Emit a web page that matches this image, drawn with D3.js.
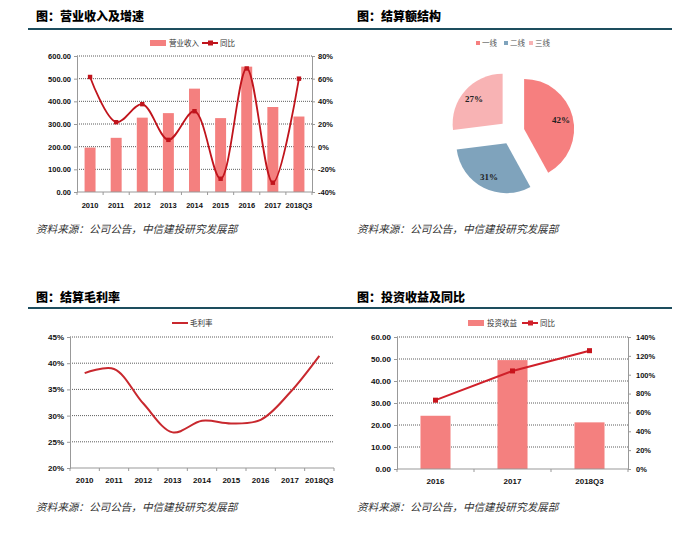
<!DOCTYPE html>
<html>
<head>
<meta charset="utf-8">
<script src="https://cdn.jsdelivr.net/npm/d3@7"></script>
<style>
  body { margin: 0; background: #fff; }
  svg { display: block; }
  text { font-family: "Liberation Sans", Arial, sans-serif; }
  .cjk { font-family: "Noto Sans CJK SC", sans-serif; }
</style>
</head>
<body>
<svg id="chart" width="685" height="534"></svg>
<script>
// ---- data ----
const years = ["2010", "2011", "2012", "2013", "2014", "2015", "2016", "2017", "2018Q3"];
const revenue = [196, 239, 328, 348, 456, 326, 553, 375, 333];
const revenueYoy = [61.5, 21.6, 37.5, 6, 31.3, -28.3, 69, -31.8, 60];

const pieNames = ["一线", "二线", "三线"];
const pieValues = [42, 31, 27];

const margin = [38.1, 38.9, 32.3, 26.8, 29.0, 28.5, 29.2, 34.4, 41.4];

const invYears = ["2016", "2017", "2018Q3"];
const invIncome = [24.2, 49.5, 21.2];
const invYoy = [73, 104, 125.5];

const revTicks = [0, 100, 200, 300, 400, 500, 600];
const revYoyTicks = [-40, -20, 0, 20, 40, 60, 80];
const marginTicks = [20, 25, 30, 35, 40, 45];
const invTicks = [0, 10, 20, 30, 40, 50, 60];
const invYoyTicks = [0, 20, 40, 60, 80, 100, 120, 140];

const source = "资料来源：公司公告，中信建投研究发展部";

const BAR = "#f4807f";
const LINE = "#c0141c";
const RULE = "#1d4d5e";
const AXIS = "#999";

const svg = d3.select("#chart");

// titles, rules, sources
function header(x, y, title) {
  svg.append("text").attr("class", "cjk").attr("x", x).attr("y", y)
    .style("font-size", "12px").style("font-weight", "900").attr("fill", "#000")
    .text(title);
}
function src(x, y) {
  svg.append("text").attr("class", "cjk").attr("x", x).attr("y", y)
    .style("font-size", "10.6px").style("font-style", "italic").attr("fill", "#333")
    .text(source);
}
header(36, 21, "图：营业收入及增速");
header(357, 21, "图：结算额结构");
header(36, 302, "图：结算毛利率");
header(357, 302, "图：投资收益及同比");
svg.append("line").attr("x1", 28).attr("x2", 672).attr("y1", 29).attr("y2", 29)
  .attr("stroke", RULE).attr("stroke-width", 2);
svg.append("line").attr("x1", 28).attr("x2", 672).attr("y1", 308).attr("y2", 308)
  .attr("stroke", RULE).attr("stroke-width", 2);
src(36, 233);
src(357, 233);
src(36, 511);
src(357, 511);

// generic helpers
function grid(g, yScale, ticks, x0, x1) {
  g.selectAll(".grid").data(ticks.slice(1)).enter().append("line")
    .attr("x1", x0).attr("x2", x1)
    .attr("y1", d => yScale(d)).attr("y2", d => yScale(d))
    .attr("stroke", "#333").attr("stroke-width", 0.8).attr("stroke-dasharray", "1,1");
}
function styleAxis(sel, size) {
  sel.select(".domain").attr("stroke", AXIS);
  sel.selectAll(".tick line").attr("stroke", AXIS);
  sel.selectAll(".tick text").attr("fill", "#111")
    .style("font-size", size).style("font-weight", "bold")
    .style("font-family", "Liberation Sans, Arial, sans-serif");
}
function bottomAxis(g, xBand, y, size, labelY) {
  g.append("line").attr("x1", xBand.range()[0]).attr("x2", xBand.range()[1])
    .attr("y1", y).attr("y2", y).attr("stroke", AXIS);
  const bounds = xBand.domain().map(d => xBand(d)).concat([xBand.range()[1]]);
  g.selectAll(".bt").data(bounds).enter().append("line")
    .attr("x1", d => d).attr("x2", d => d).attr("y1", y).attr("y2", y + 3)
    .attr("stroke", AXIS);
  g.selectAll(".bl").data(xBand.domain()).enter().append("text")
    .attr("x", d => xBand(d) + xBand.bandwidth() / 2).attr("y", labelY)
    .attr("text-anchor", "middle").attr("fill", "#111")
    .style("font-size", size).style("font-weight", "bold")
    .text(d => d);
}
function legendBar(x, y, label) {
  svg.append("rect").attr("x", x).attr("y", y - 3).attr("width", 16).attr("height", 6).attr("fill", BAR);
  svg.append("text").attr("class", "cjk").attr("x", x + 19).attr("y", y + 3)
    .style("font-size", "7.5px").attr("fill", "#333").text(label);
}
function legendLine(x, y, label, color, marker) {
  svg.append("line").attr("x1", x).attr("x2", x + 16).attr("y1", y).attr("y2", y)
    .attr("stroke", color).attr("stroke-width", 2);
  if (marker) {
    svg.append("rect").attr("x", x + 6).attr("y", y - 2.5).attr("width", 5).attr("height", 5).attr("fill", color);
  }
  svg.append("text").attr("class", "cjk").attr("x", x + 18).attr("y", y + 3)
    .style("font-size", "7.5px").attr("fill", "#333").text(label);
}

// ---- Chart 1: revenue & yoy ----
{
  const x0 = 77, x1 = 312, top = 56, bottom = 192;
  const g = svg.append("g");
  const x = d3.scaleBand().domain(years).range([x0, x1]);
  const y = d3.scaleLinear().domain([0, 600]).range([bottom, top]);
  const y2 = d3.scaleLinear().domain([-40, 80]).range([bottom, top]);
  grid(g, y, revTicks, x0, x1);
  const bw = x.bandwidth() * 0.42;
  g.selectAll(".bar").data(revenue).enter().append("rect")
    .attr("x", (d, i) => x(years[i]) + (x.bandwidth() - bw) / 2)
    .attr("y", d => y(d)).attr("width", bw).attr("height", d => bottom - y(d))
    .attr("fill", BAR);
  const ya = g.append("g").attr("transform", `translate(${x0},0)`)
    .call(d3.axisLeft(y).tickValues(revTicks).tickSize(3).tickPadding(3).tickFormat(d3.format(".2f")));
  styleAxis(ya, "7.5px");
  const yb = g.append("g").attr("transform", `translate(${x1},0)`)
    .call(d3.axisRight(y2).tickValues(revYoyTicks).tickSize(3).tickPadding(3).tickFormat(d => d + "%"));
  styleAxis(yb, "7.5px");
  bottomAxis(g, x, bottom, "7.5px", 208);
  const pts = revenueYoy.map((d, i) => [x(years[i]) + x.bandwidth() / 2, y2(d)]);
  g.append("path").attr("d", d3.line().curve(d3.curveCatmullRom.alpha(0.5))(pts))
    .attr("fill", "none").attr("stroke", LINE).attr("stroke-width", 1.8);
  g.selectAll(".mk").data(pts).enter().append("rect")
    .attr("x", d => d[0] - 2.2).attr("y", d => d[1] - 2.2).attr("width", 4.4).attr("height", 4.4)
    .attr("fill", LINE);
  legendBar(150, 43, "营业收入");
  legendLine(202, 43, "同比", LINE, true);
}

// ---- Chart 2: pie ----
{
  const cx = 512, cy = 132, r = 50, explode = 12.5;
  const colors = ["#f67f7f", "#7fa3bc", "#f8b3b4"];
  const pie = d3.pie().sort(null)(pieValues);
  const arc = d3.arc().innerRadius(0).outerRadius(r);
  const labelArc = d3.arc().innerRadius(38).outerRadius(38);
  const g = svg.append("g").attr("transform", `translate(${cx},${cy})`);
  const sl = g.selectAll(".sl").data(pie).enter().append("g")
    .attr("transform", d => {
      const a = (d.startAngle + d.endAngle) / 2;
      return `translate(${Math.sin(a) * explode},${-Math.cos(a) * explode})`;
    });
  sl.append("path").attr("d", arc).attr("fill", (d, i) => colors[i]);
  sl.append("text").attr("transform", d => `translate(${labelArc.centroid(d)})`)
    .attr("text-anchor", "middle").attr("dy", "0.35em")
    .style("font-family", "Liberation Serif, serif").style("font-size", "9px").style("font-weight", "bold")
    .attr("fill", "#222").text(d => d.data + "%");
  const lx = [476, 504, 529];
  pieNames.forEach((n, i) => {
    svg.append("rect").attr("x", lx[i]).attr("y", 41).attr("width", 4).attr("height", 4).attr("fill", colors[i]);
    svg.append("text").attr("class", "cjk").attr("x", lx[i] + 6).attr("y", 46)
      .style("font-size", "7.5px").attr("fill", "#555").text(n);
  });
}

// ---- Chart 3: gross margin ----
{
  const x0 = 70, x1 = 334, top = 337, bottom = 468;
  const g = svg.append("g");
  const x = d3.scaleBand().domain(years).range([x0, x1]);
  const y = d3.scaleLinear().domain([20, 45]).range([bottom, top]);
  grid(g, y, marginTicks, x0, x1);
  const ya = g.append("g").attr("transform", `translate(${x0},0)`)
    .call(d3.axisLeft(y).tickValues(marginTicks).tickSize(3).tickPadding(3).tickFormat(d => d + "%"));
  styleAxis(ya, "8px");
  bottomAxis(g, x, bottom, "8px", 483);
  const pts = margin.map((d, i) => [x(years[i]) + x.bandwidth() / 2, y(d)]);
  g.append("path").attr("d", d3.line().curve(d3.curveCatmullRom.alpha(0.5))(pts))
    .attr("fill", "none").attr("stroke", "#c8282e").attr("stroke-width", 2);
  legendLine(172, 323, "毛利率", "#c8282e", false);
}

// ---- Chart 4: investment income ----
{
  const x0 = 397, x1 = 628, top = 337, bottom = 469;
  const g = svg.append("g");
  const x = d3.scaleBand().domain(invYears).range([x0, x1]);
  const y = d3.scaleLinear().domain([0, 60]).range([bottom, top]);
  const y2 = d3.scaleLinear().domain([0, 140]).range([bottom, top]);
  grid(g, y, invTicks, x0, x1);
  const bw = x.bandwidth() * 0.39;
  g.selectAll(".bar").data(invIncome).enter().append("rect")
    .attr("x", (d, i) => x(invYears[i]) + (x.bandwidth() - bw) / 2)
    .attr("y", d => y(d)).attr("width", bw).attr("height", d => bottom - y(d))
    .attr("fill", BAR);
  const ya = g.append("g").attr("transform", `translate(${x0},0)`)
    .call(d3.axisLeft(y).tickValues(invTicks).tickSize(3).tickPadding(3).tickFormat(d3.format(".2f")));
  styleAxis(ya, "8px");
  const yb = g.append("g").attr("transform", `translate(${x1},0)`)
    .call(d3.axisRight(y2).tickValues(invYoyTicks).tickSize(3).tickPadding(5).tickFormat(d => d + "%"));
  styleAxis(yb, "7.5px");
  bottomAxis(g, x, bottom, "8px", 484);
  const pts = invYoy.map((d, i) => [x(invYears[i]) + x.bandwidth() / 2, y2(d)]);
  g.append("path").attr("d", d3.line()(pts))
    .attr("fill", "none").attr("stroke", "#d0202a").attr("stroke-width", 2);
  g.selectAll(".mk").data(pts).enter().append("rect")
    .attr("x", d => d[0] - 2.5).attr("y", d => d[1] - 2.5).attr("width", 5).attr("height", 5)
    .attr("fill", "#c8141c");
  legendBar(468, 323, "投资收益");
  legendLine(522, 323, "同比", "#d0202a", true);
}
</script>
</body>
</html>
